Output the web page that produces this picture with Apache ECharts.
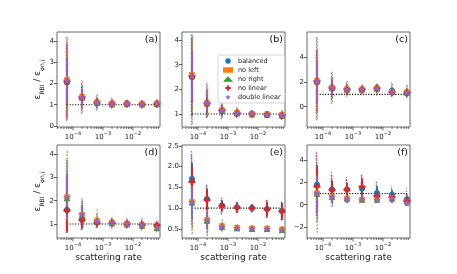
<!DOCTYPE html>
<html><head><meta charset="utf-8">
<script src="https://cdn.jsdelivr.net/npm/echarts@6/dist/echarts.min.js"></script>
<style>html,body{margin:0;padding:0;background:#fff}#c{width:457px;height:274px}</style>
</head><body><div id="c"></div>
<script>
const rates = [6.3e-5, 2e-4, 6.3e-4, 2e-3, 6.3e-3, 2e-2, 6.3e-2];
const methods = ['balanced', 'no left', 'no right', 'no linear', 'double linear'];
const panelTags = ['(a)', '(b)', '(c)', '(d)', '(e)', '(f)'];
const xMajorTicks = [1e-4, 1e-3, 1e-2];

// (a)
const aBalanced = [2.05, 1.33, 1.08, 1.03, 1.05, 1.02, 1.03];
const aNoLeft   = [2.18, 1.38, 1.13, 1.06, 1.07, 1.04, 1.07];
const aNoRight  = [2.12, 1.35, 1.10, 1.04, 1.06, 1.03, 1.05];
const aNoLinear = [2.10, 1.34, 1.10, 1.05, 1.05, 1.03, 1.04];
const aDouble   = [2.15, 1.36, 1.11, 1.05, 1.06, 1.03, 1.06];
const aErr      = [1.10, 0.35, 0.15, 0.10, 0.08, 0.08, 0.09];
const aLow      = [0.22, 0.57, 0.73, 0.81, 0.85, 0.82, 0.85];
const aHigh     = [4.22, 2.14, 1.50, 1.33, 1.25, 1.20, 1.27];
const aTicks    = [0, 1, 2, 3, 4];

// (b)
const bBalanced = [2.50, 1.42, 1.13, 1.03, 1.00, 0.97, 0.94];
const bNoLeft   = [2.59, 1.46, 1.16, 1.05, 1.01, 0.99, 0.96];
const bNoRight  = [2.55, 1.44, 1.14, 1.04, 1.00, 0.98, 0.95];
const bNoLinear = [2.53, 1.43, 1.15, 1.04, 1.00, 0.98, 0.95];
const bDouble   = [2.56, 1.45, 1.15, 1.04, 1.01, 0.98, 0.95];
const bErr      = [1.00, 0.35, 0.15, 0.10, 0.07, 0.06, 0.08];
const bLow      = [0.55, 0.84, 0.80, 0.84, 0.86, 0.85, 0.75];
const bHigh     = [4.25, 2.25, 1.45, 1.28, 1.16, 1.12, 1.16];
const bTicks    = [1, 2, 3, 4];

// (c)
const cBalanced = [2.02, 1.52, 1.40, 1.40, 1.52, 1.30, 1.12];
const cNoLeft   = [2.10, 1.56, 1.43, 1.40, 1.48, 1.20, 1.18];
const cNoRight  = [2.08, 1.54, 1.41, 1.42, 1.50, 1.22, 1.15];
const cNoLinear = [2.05, 1.53, 1.40, 1.40, 1.49, 1.18, 1.14];
const cDouble   = [2.06, 1.55, 1.42, 1.41, 1.50, 1.21, 1.16];
const cErr      = [1.60, 0.55, 0.25, 0.18, 0.20, 0.22, 0.20];
const cLow      = [-1.10, 0.27, 0.81, 1.00, 0.90, 0.81, 0.68];
const cHigh     = [5.65, 2.83, 2.08, 1.81, 1.90, 1.94, 1.76];
const cTicks    = [0, 2, 4];

// (d)
const dBalanced = [1.60, 1.17, 1.06, 1.05, 1.01, 0.97, 0.93];
const dNoLeft   = [2.16, 1.40, 1.14, 1.06, 1.02, 0.95, 0.86];
const dNoRight  = [2.12, 1.38, 1.11, 1.04, 1.00, 0.94, 0.84];
const dNoLinear = [1.58, 1.18, 1.05, 1.05, 1.00, 0.96, 0.94];
const dDouble   = [2.15, 1.41, 1.12, 1.05, 1.01, 0.95, 0.85];
const dErrA     = [0.90, 0.35, 0.15, 0.10, 0.09, 0.10, 0.12];
const dErrB     = [1.00, 0.40, 0.15, 0.10, 0.09, 0.10, 0.10];
const dLowA     = [0.61, 0.74, 0.83, 0.80, 0.80, 0.72, 0.65];
const dHighA    = [3.80, 1.90, 1.45, 1.30, 1.25, 1.28, 1.20];
const dLowB     = [0.61, 0.74, 0.80, 0.80, 0.80, 0.72, 0.65];
const dHighB    = [4.17, 2.10, 1.60, 1.30, 1.25, 1.25, 1.15];
const dTicks    = [1, 2, 3, 4];

// (e)
const eBalanced = [1.70, 1.22, 1.06, 1.02, 1.00, 0.98, 0.93];
const eNoLeft   = [1.15, 0.72, 0.57, 0.53, 0.51, 0.51, 0.49];
const eNoRight  = [1.14, 0.70, 0.55, 0.52, 0.50, 0.50, 0.48];
const eNoLinear = [1.63, 1.20, 1.05, 1.01, 1.00, 0.97, 0.92];
const eDouble   = [1.15, 0.71, 0.56, 0.52, 0.51, 0.50, 0.48];
const eErrA     = [0.40, 0.25, 0.13, 0.12, 0.08, 0.18, 0.20];
const eErrB     = [0.40, 0.20, 0.07, 0.05, 0.04, 0.04, 0.05];
const eLowA     = [0.60, 0.90, 0.85, 0.88, 0.90, 0.76, 0.71];
const eHighA    = [2.40, 1.57, 1.25, 1.15, 1.10, 1.20, 1.17];
const eLowB     = [0.35, 0.30, 0.42, 0.44, 0.44, 0.43, 0.40];
const eHighB    = [1.85, 1.10, 0.72, 0.62, 0.60, 0.60, 0.58];
const eTicks    = [0.5, 1.0, 1.5, 2.0, 2.5];

// (f)
const fBalanced = [1.78, 1.36, 1.36, 1.45, 1.05, 0.90, 0.48];
const fNoLeft   = [1.05, 0.74, 0.55, 0.45, 0.50, 0.62, 0.28];
const fNoRight  = [1.00, 0.70, 0.58, 0.48, 0.48, 0.58, 0.30];
const fNoLinear = [1.62, 1.33, 1.34, 1.62, 0.78, 0.68, 0.35];
const fDouble   = [1.02, 0.72, 0.52, 0.45, 0.45, 0.60, 0.18];
const fErrA     = [1.80, 0.80, 0.60, 0.75, 0.60, 0.40, 0.35];
const fErrB     = [1.60, 0.50, 0.35, 0.30, 0.30, 0.30, 0.30];
const fLowA     = [-1.00, 0.20, 0.40, 0.50, 0.20, 0.20, 0.00];
const fHighA    = [4.90, 2.95, 2.50, 2.80, 2.10, 1.70, 1.50];
const fLowB     = [-2.60, -0.30, 0.10, 0.20, 0.20, 0.10, -0.10];
const fHighB    = [3.00, 1.90, 1.50, 1.20, 1.70, 1.30, 1.00];
const fTicks    = [-2, 0, 2, 4];

const panels = [
  {means: [aBalanced, aNoLeft, aNoRight, aNoLinear, aDouble], errA: aErr, errB: aErr, lowA: aLow, highA: aHigh, lowB: aLow, highB: aHigh, ticks: aTicks},
  {means: [bBalanced, bNoLeft, bNoRight, bNoLinear, bDouble], errA: bErr, errB: bErr, lowA: bLow, highA: bHigh, lowB: bLow, highB: bHigh, ticks: bTicks},
  {means: [cBalanced, cNoLeft, cNoRight, cNoLinear, cDouble], errA: cErr, errB: cErr, lowA: cLow, highA: cHigh, lowB: cLow, highB: cHigh, ticks: cTicks},
  {means: [dBalanced, dNoLeft, dNoRight, dNoLinear, dDouble], errA: dErrA, errB: dErrB, lowA: dLowA, highA: dHighA, lowB: dLowB, highB: dHighB, ticks: dTicks},
  {means: [eBalanced, eNoLeft, eNoRight, eNoLinear, eDouble], errA: eErrA, errB: eErrB, lowA: eLowA, highA: eHighA, lowB: eLowB, highB: eHighB, ticks: eTicks},
  {means: [fBalanced, fNoLeft, fNoRight, fNoLinear, fDouble], errA: fErrA, errB: fErrB, lowA: fLowA, highA: fHighA, lowB: fLowB, highB: fHighB, ticks: fTicks}
];

// ---- styling / layout ----
const FONT = 'DejaVu Sans';
const colors = ['#1f77b4', '#ff7f0e', '#2ca02c', '#d62728', '#9467bd'];
const plusPath = 'path://M2,0H4V2H6V4H4V6H2V4H0V2H2Z';
const starPath = 'path://M50,0L61,35L98,35L68,57L79,91L50,70L21,91L32,57L2,35L39,35Z';
const symbols = ['circle', 'rect', 'triangle', plusPath, starPath];
const symbolSizes = [6, 5.5, 6.5, 7, 8];
const inGroupA = [true, false, false, true, false];
const yRanges = [[-0.05, 4.43], [0.47, 4.33], [-1.64, 6.05], [0.40, 4.39], [0.28, 2.52], [-2.98, 5.34]];
const xMin = 2.93e-5, xMax = 0.0794;
const gridLefts = [57, 182, 307], gridTops = [32, 145], gridW = 103, gridHs = [95, 93];
const stripDx = [-0.6, 0.6, 0, -0.3, 0.3];
const stripOff = [0, 1.2, 2.4, 0.6, 1.8];

const minorVals = [];
for (let k = -5; k <= -1; k++) for (let m = 2; m <= 9; m++) {
  const v = m * Math.pow(10, k);
  if (v > xMin && v < xMax) minorVals.push(v);
}

const grids = [], xAxes = [], yAxes = [], series = [], graphics = [];

panels.forEach((p, i) => {
  const row = Math.floor(i / 3), col = i % 3;
  grids.push({left: gridLefts[col], top: gridTops[row], width: gridW, height: gridHs[row],
    show: true, borderColor: '#444', borderWidth: 0.8, backgroundColor: 'transparent'});
  xAxes.push({
    type: 'log', logBase: 10, gridIndex: i, min: xMin, max: xMax,
    axisLine: {show: false}, axisTick: {show: false}, splitLine: {show: false}, minorTick: {show: false},
    axisLabel: {
      color: '#222', margin: 4, fontFamily: FONT,
      showMinLabel: false, showMaxLabel: false,
      formatter: function (v) {
        const l = Math.log10(v), r = Math.round(l);
        if (Math.abs(l - r) > 1e-6) return '';
        return '{b|10}{s|\u2212' + (-r) + '}';
      },
      rich: {
        b: {fontSize: 7, fontFamily: FONT, color: '#222', lineHeight: 10, verticalAlign: 'bottom'},
        s: {fontSize: 5, fontFamily: FONT, color: '#222', lineHeight: 10, verticalAlign: 'top'}
      }
    },
    name: row === 1 ? 'scattering rate' : '', nameLocation: 'middle', nameGap: 15,
    nameTextStyle: {fontSize: 9, color: '#222', fontFamily: FONT}
  });
  yAxes.push({
    type: 'value', gridIndex: i, min: yRanges[i][0], max: yRanges[i][1],
    axisLine: {show: false}, splitLine: {show: false},
    axisTick: {show: true, length: 3, customValues: p.ticks, lineStyle: {color: '#333', width: 0.8}},
    axisLabel: {
      customValues: p.ticks, fontSize: 7, color: '#222', margin: 3, fontFamily: FONT,
      formatter: function (v) {
        if (i === 4) return v.toFixed(1);
        return String(v).replace('-', '\u2212');
      }
    },
    name: col === 0 ? '{e|\u03b5}{s|RBI}{e| / \u03b5}{s|\u03c6n,j}' : '',
    nameLocation: 'middle', nameGap: 12, nameRotate: 90,
    nameTextStyle: {
      fontFamily: FONT, color: '#222',
      rich: {
        e: {fontSize: 9, fontFamily: FONT, color: '#222', lineHeight: 12, verticalAlign: 'top'},
        s: {fontSize: 6, fontFamily: FONT, color: '#222', lineHeight: 12, verticalAlign: 'bottom'}
      }
    }
  });

  // x ticks (major + log minor)
  series.push({
    type: 'custom', xAxisIndex: i, yAxisIndex: i, clip: false, silent: true, z: 5,
    data: xMajorTicks.map(v => [v, yRanges[i][0], 3.5]).concat(minorVals.map(v => [v, yRanges[i][0], 2])),
    encode: {x: 0, y: 1},
    renderItem: function (params, api) {
      const cs = params.coordSys;
      const px = api.coord([api.value(0), api.value(1)])[0];
      const yb = cs.y + cs.height;
      return {type: 'line', shape: {x1: px, y1: yb, x2: px, y2: yb + api.value(2)},
        style: {stroke: '#333', lineWidth: 0.7}};
    }
  });

  // strips of individual runs
  methods.forEach((m, k) => {
    const A = inGroupA[k];
    const err = A ? p.errA : p.errB, lo = A ? p.lowA : p.lowB, hi = A ? p.highA : p.highB;
    const c = colors[k], dx = stripDx[k], off = stripOff[k];
    series.push({
      type: 'custom', xAxisIndex: i, yAxisIndex: i, clip: true, silent: true, z: 1,
      data: rates.map((r, j) => [r, p.means[k][j], err[j], lo[j], hi[j]]),
      encode: {x: 0, y: 1},
      renderItem: function (params, api) {
        const x = api.value(0), mu = api.value(1), e = api.value(2), l = api.value(3), h = api.value(4);
        const pL = api.coord([x, l]), pH = api.coord([x, h]);
        const iL = api.coord([x, Math.max(l, mu - 1.6 * e)]), iH = api.coord([x, Math.min(h, mu + 1.6 * e)]);
        return {type: 'group', children: [
          {type: 'line', shape: {x1: pL[0] + dx, y1: pL[1], x2: pH[0] + dx, y2: pH[1]},
            style: {stroke: c, lineWidth: 1.4, lineDash: [1.1, 2.2], lineDashOffset: off, opacity: 0.55}},
          {type: 'line', shape: {x1: iL[0] + dx, y1: iL[1], x2: iH[0] + dx, y2: iH[1]},
            style: {stroke: c, lineWidth: 1.4, lineDash: [1.1, 1.1], lineDashOffset: off, opacity: 0.6}}
        ]};
      }
    });
  });

  // reference line at 1
  series.push({
    type: 'line', xAxisIndex: i, yAxisIndex: i, silent: true, z: 2, symbol: 'none',
    data: [[rates[0], 1], [rates[rates.length - 1], 1]],
    lineStyle: {color: '#000', width: 1.1, type: [1.1, 1.6]}
  });

  // error bars + mean markers
  methods.forEach((m, k) => {
    const err = inGroupA[k] ? p.errA : p.errB;
    const c = colors[k];
    series.push({
      type: 'custom', xAxisIndex: i, yAxisIndex: i, clip: true, silent: true, z: 3,
      data: rates.map((r, j) => [r, p.means[k][j], err[j]]),
      encode: {x: 0, y: 1},
      renderItem: function (params, api) {
        const x = api.value(0), mu = api.value(1), e = api.value(2);
        const p1 = api.coord([x, mu - e]), p2 = api.coord([x, mu + e]);
        return {type: 'line', shape: {x1: p1[0], y1: p1[1], x2: p2[0], y2: p2[1]},
          style: {stroke: c, lineWidth: 1.8}};
      }
    });
    series.push({
      type: 'scatter', name: m, xAxisIndex: i, yAxisIndex: i, z: 3, silent: true,
      symbol: symbols[k], symbolSize: symbolSizes[k],
      itemStyle: {color: c, opacity: 1},
      data: rates.map((r, j) => [r, p.means[k][j]])
    });
  });

  graphics.push({
    type: 'text', silent: true, z: 20,
    style: {text: panelTags[i], x: gridLefts[col] + gridW - 2, y: gridTops[row] + 7.5,
      textAlign: 'right', textVerticalAlign: 'middle', font: '9.5px "DejaVu Sans"', fill: '#111'}
  });
});

const chart = echarts.init(document.getElementById('c'), null, {renderer: 'canvas'});
chart.setOption({
  animation: false,
  backgroundColor: '#fff',
  textStyle: {fontFamily: FONT},
  grid: grids, xAxis: xAxes, yAxis: yAxes, series: series, graphic: graphics,
  legend: {
    data: methods.map((m, k) => ({name: m, icon: symbols[k]})),
    orient: 'vertical', left: 218, top: 55, z: 10,
    itemWidth: 10, itemHeight: 5.5, itemGap: 1, padding: [2, 4, 2, 5],
    textStyle: {fontSize: 6.5, color: '#222', lineHeight: 8, fontFamily: FONT},
    borderColor: '#ccc', borderWidth: 0.8, borderRadius: 2, backgroundColor: 'rgba(255,255,255,0.9)',
    selectedMode: false
  }
});
</script></body></html>
